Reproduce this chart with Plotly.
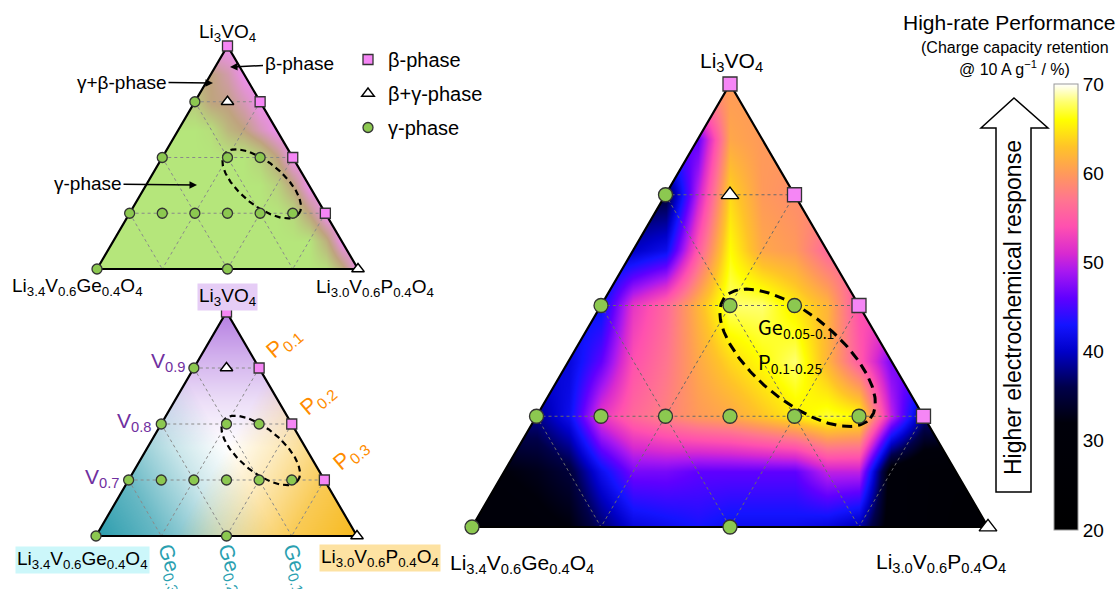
import numpy as np
import plotly.graph_objects as go

FIG_W, FIG_H = 1120, 589
SQ3 = np.sqrt(3) / 2
PAD = 0.07
FONT = "Liberation Sans, Arial, sans-serif"

# ---- sample compositions Li3V(1-x-y)Ge(x)P(y)O4 given as (Ge, P) contents ----
BETA_GE = [0.0, 0.0, 0.0, 0.0]
BETA_P = [0.0, 0.1, 0.2, 0.3]
MIX_GE = [0.05, 0.0]
MIX_P = [0.05, 0.4]
GAMMA_GE = [0.1, 0.2, 0.1, 0.05, 0.3, 0.25, 0.2, 0.15, 0.1, 0.05, 0.4, 0.2]
GAMMA_P = [0.0, 0.0, 0.1, 0.15, 0.0, 0.05, 0.1, 0.15, 0.2, 0.25, 0.0, 0.2]

# highlighted composition window (Ge 0.05-0.1, P 0.1-0.25)
WIN_GE = [0.05, 0.1]
WIN_P = [0.1, 0.25]

# ---- lattice maps: row k has Li3VO4 fraction k/8, nodes run from the Ge edge to the P edge ----
# charge capacity retention @ 10 A/g (%)
RETENTION_ROWS = [
    [30, 30, 31, 32, 37, 41, 42, 43, 42, 42, 42, 41, 39, 30, 28, 26, 25],
    [32, 33, 35, 42, 47, 47, 46, 46, 46, 46, 50, 50, 30, 28, 27],
    [38, 42, 52, 56, 58, 60, 61, 63, 65, 67, 66, 50, 38],
    [41, 46, 54, 57, 61, 64, 66, 68, 62, 55, 47],
    [42, 52, 56, 62, 68, 68, 65, 62, 54],
    [40, 42, 55, 66, 61, 60, 56],
    [35, 50, 64, 60, 59],
    [46, 61, 60],
    [60],
]
# phase character: 0 = gamma, 0.5 = gamma+beta, 1 = beta
PHASE_ROWS = [
    [0] * 14 + [0.05, 0.4, 1],
    [0] * 13 + [0.4, 1],
    [0] * 10 + [0.1, 0.5, 1],
    [0] * 8 + [0.15, 0.5, 1],
    [0] * 6 + [0.15, 0.5, 1],
    [0, 0, 0.05, 0.35, 0.5, 0.75, 1],
    [0.2, 0.5, 0.55, 0.75, 1],
    [0.5, 0.7, 1],
    [1],
]

RET_MIN, RET_MAX = 20, 70
RET_TICKS = [20, 30, 40, 50, 60, 70]
RET_COLORS = [(20, '#000000'), (32, '#00000a'), (36, '#00004a'), (40, '#0000c8'),
              (43, '#1414ff'), (46, '#6000ff'), (49, '#a818f0'), (51, '#d82ad0'),
              (54, '#ff50b0'), (57, '#ff7590'), (60, '#ff9a5a'), (63, '#ffc428'),
              (66, '#ffff00'), (68, '#ffff70'), (70, '#ffffff')]
PHASE_COLORS = [(0, '#b5e67b'), (0.5, '#bfa47f'), (1, '#ef8ef1')]

GREEN = '#8cc850'
PINK = '#f586f5'
EDGE = '#333333'


def to_xy(ge, p):
    b = np.asarray(ge, float) / 0.4
    c = np.asarray(p, float) / 0.4
    a = 1 - b - c
    return c + a / 2, a * SQ3


def lattice_grid(rows):
    grid = []
    for k, row in enumerate(rows):
        grid.append([row[0]] * k + list(row) + [row[-1]] * k)
    return np.array(grid, float)


N = len(RETENTION_ROWS[0]) - 1
GX = np.arange(N + 1) / N
GY = np.arange(len(RETENTION_ROWS)) / (len(RETENTION_ROWS) - 1) * SQ3
# composition fractions at the lattice nodes (Li3VO4 / Ge end / P end)
FRAC_A = np.repeat(GY[:, None] / SQ3, N + 1, axis=1)
FRAC_C = GX[None, :] - FRAC_A / 2
FRAC_B = 1 - FRAC_A - FRAC_C


def axis_domain(lx, rx, ay, by):
    sx = rx - lx
    sy = (by - ay) / SQ3
    return ([(lx - PAD * sx) / FIG_W, (rx + PAD * sx) / FIG_W],
            [1 - (by + PAD * sy) / FIG_H, 1 - (ay - PAD * sy) / FIG_H])


def paper(x, y):
    return x / FIG_W, 1 - y / FIG_H


def frame_traces(ax, marker_scale, ell_width, ell_dash, grid_color, show_legend):
    xa, ya = 'x' + ax, 'y' + ax
    tr = []
    # white mask outside the triangle (three counter-clockwise pieces)
    k = 0.5 / SQ3
    lo, hi = -PAD, SQ3 + PAD
    top_off = (hi - SQ3) * k
    mx = [-PAD, lo * k, 0.5 + top_off, -PAD, -PAD, None,
          1 + PAD, 1 + PAD, 0.5 - top_off, 1 - lo * k, 1 + PAD, None,
          -PAD, 1 + PAD, 1 + PAD, -PAD, -PAD]
    my = [lo, lo, hi, hi, lo, None,
          lo, hi, hi, lo, lo, None,
          lo, lo, 0, 0, lo]
    tr.append(go.Scatter(x=mx, y=my, mode='none', fill='toself', fillcolor='white',
                         xaxis=xa, yaxis=ya, showlegend=False, hoverinfo='skip'))
    # dotted composition grid
    gx, gy = [], []
    for t in (0.25, 0.5, 0.75):
        for (a0, b0, c0), (a1, b1, c1) in (
                ((t, 1 - t, 0), (t, 0, 1 - t)),
                ((1 - t, t, 0), (0, t, 1 - t)),
                ((1 - t, 0, t), (0, 1 - t, t))):
            gx += [c0 + a0 / 2, c1 + a1 / 2, None]
            gy += [a0 * SQ3, a1 * SQ3, None]
    tr.append(go.Scatter(x=gx, y=gy, mode='lines', line=dict(color=grid_color, width=1, dash='dot'),
                         xaxis=xa, yaxis=ya, showlegend=False, hoverinfo='skip'))
    # triangle outline
    tr.append(go.Scatter(x=[0, 0.5, 1, 0], y=[0, SQ3, 0, 0], mode='lines',
                         line=dict(color='black', width=2.2), xaxis=xa, yaxis=ya,
                         showlegend=False, hoverinfo='skip'))
    # dashed ellipse around the high-rate window
    cx, cy = to_xy(np.mean(WIN_GE), np.mean(WIN_P))
    t = np.linspace(0, 2 * np.pi, 240)
    A, B, th = 0.184, 0.083, np.deg2rad(-40)
    ex = cx + 0.006 + A * np.cos(t) * np.cos(th) - B * np.sin(t) * np.sin(th)
    ey = cy + 0.006 + A * np.cos(t) * np.sin(th) + B * np.sin(t) * np.cos(th)
    tr.append(go.Scatter(x=ex, y=ey, mode='lines', line=dict(color='black', width=ell_width, dash=ell_dash),
                         xaxis=xa, yaxis=ya, showlegend=False, hoverinfo='skip'))
    # samples
    s = marker_scale
    bx, by = to_xy(BETA_GE, BETA_P)
    tx, ty = to_xy(MIX_GE, MIX_P)
    cxg, cyg = to_xy(GAMMA_GE, GAMMA_P)
    tr.append(go.Scatter(x=bx, y=by, mode='markers', name='β-phase', legendrank=1, legendgroup='b',
                         marker=dict(symbol='square', size=10 * s, color=PINK, line=dict(color=EDGE, width=1.3)),
                         xaxis=xa, yaxis=ya, showlegend=show_legend, cliponaxis=False))
    tr.append(go.Scatter(x=tx, y=ty, mode='markers', name='β+γ-phase', legendrank=2, legendgroup='bg',
                         marker=dict(symbol='triangle-up', size=11 * s, color='white', line=dict(color='black', width=1.4)),
                         xaxis=xa, yaxis=ya, showlegend=show_legend, cliponaxis=False))
    tr.append(go.Scatter(x=cxg, y=cyg, mode='markers', name='γ-phase', legendrank=3, legendgroup='g',
                         marker=dict(symbol='circle', size=10 * s, color=GREEN, line=dict(color=EDGE, width=1.3)),
                         xaxis=xa, yaxis=ya, showlegend=show_legend, cliponaxis=False))
    return tr


def scale(stops, lo, hi):
    return [[(v - lo) / (hi - lo), c] for v, c in stops]


def alpha_scale(rgb, stops):
    return [[z, 'rgba(%d,%d,%d,%.2f)' % (*rgb, a)] for z, a in stops]


traces = []
# phase map (top-left)
traces.append(go.Heatmap(x=GX, y=GY, z=lattice_grid(PHASE_ROWS), zmin=0, zmax=1, zsmooth='best',
                         colorscale=scale(PHASE_COLORS, 0, 1), showscale=False, hoverinfo='skip',
                         xaxis='x', yaxis='y'))
# composition colouring (bottom-left)
for frac, rgb, st in (
        (FRAC_A, (180, 125, 225), [(0, 0), (0.4, 0), (0.6, 0.25), (0.8, 0.6), (1, 1)]),
        (FRAC_B, (40, 155, 172), [(0, 0), (0.3, 0), (0.5, 0.25), (0.75, 0.7), (1, 1)]),
        (FRAC_C, (247, 185, 28), [(0, 0), (0.3, 0), (0.5, 0.3), (0.75, 0.75), (1, 1)])):
    traces.append(go.Heatmap(x=GX, y=GY, z=frac, zmin=0, zmax=1, zsmooth='best',
                             colorscale=alpha_scale(rgb, st), showscale=False, hoverinfo='skip',
                             xaxis='x2', yaxis='y2'))
# retention map (right)
cb_top, cb_bot = 84, 530
traces.append(go.Heatmap(
    x=GX, y=GY, z=lattice_grid(RETENTION_ROWS), zmin=RET_MIN, zmax=RET_MAX, zsmooth='best',
    colorscale=scale(RET_COLORS, RET_MIN, RET_MAX), hoverinfo='skip', xaxis='x3', yaxis='y3',
    colorbar=dict(x=1054 / FIG_W, xanchor='left', y=1 - (cb_top + cb_bot) / 2 / FIG_H, yanchor='middle',
                  len=(cb_bot - cb_top) / FIG_H, lenmode='fraction', thickness=24, xpad=0, ypad=0,
                  outlinewidth=1, outlinecolor='#999999', tickvals=RET_TICKS, ticks='',
                  tickfont=dict(size=19, family=FONT, color='black'))))

traces += frame_traces('', 1.0, 2.2, '6px,4px', '#8a8a8a', True)
traces += frame_traces('2', 1.0, 2.2, '6px,4px', '#8a8a8a', False)
traces += frame_traces('3', 1.4, 3, '10px,6px', '#6a6a6a', False)

fig = go.Figure(traces)

d1 = axis_domain(97, 358, 46, 269)
d2 = axis_domain(96, 357, 312, 536)
d3 = axis_domain(472, 988, 84, 527)
for ax, (xd, yd) in (('', d1), ('2', d2), ('3', d3)):
    fig.layout['xaxis' + ax] = dict(domain=xd, range=[-PAD, 1 + PAD], visible=False, fixedrange=True)
    fig.layout['yaxis' + ax] = dict(domain=yd, range=[-PAD, SQ3 + PAD], visible=False, fixedrange=True)

ann = []


def label(text, x, y, size, color='black', angle=0, bg=None, family=FONT, xanchor='center'):
    px_, py_ = paper(x, y)
    ann.append(dict(text=text, x=px_, y=py_, xref='paper', yref='paper', showarrow=False,
                    xanchor=xanchor, yanchor='middle', textangle=angle,
                    font=dict(size=size, color=color, family=family),
                    bgcolor=bg, borderpad=1))


LVO = 'Li<sub>3</sub>VO<sub>4</sub>'
LGE = 'Li<sub>3.4</sub>V<sub>0.6</sub>Ge<sub>0.4</sub>O<sub>4</sub>'
LP = 'Li<sub>3.0</sub>V<sub>0.6</sub>P<sub>0.4</sub>O<sub>4</sub>'

# top-left phase diagram
label(LVO, 227, 33, 19)
label(LGE, 77, 287, 19)
label(LP, 375, 288, 19)
for text, hx, hy, tx, ty in (('β-phase', 230, 67, 299, 64),
                             ('γ+β-phase', 213, 83, 122, 82),
                             ('γ-phase', 197, 185, 88, 184)):
    hxp, hyp = paper(hx, hy)
    ann.append(dict(text=text, x=hxp, y=hyp, xref='paper', yref='paper', showarrow=True,
                    ax=tx - hx, ay=ty - hy, arrowhead=2, arrowsize=1, arrowwidth=1.5,
                    arrowcolor='black', font=dict(size=19, family=FONT, color='black')))

# bottom-left composition map
label(LVO, 227, 297, 19, bg='#e6cdf6')
label(LGE, 82, 560, 19, bg='#ccf7fa')
label(LP, 380, 558, 19, bg='#fde2a2')
for text, x, y in (('V<sub>0.9</sub>', 168, 362), ('V<sub>0.8</sub>', 134, 422), ('V<sub>0.7</sub>', 102, 478)):
    label(text, x, y, 21, color='#7030a0')
for text, x, y in (('P<sub>0.1</sub>', 284, 343), ('P<sub>0.2</sub>', 318, 400), ('P<sub>0.3</sub>', 351, 455)):
    label(text, x, y, 22, color='#ff8c00', angle=-40)
for text, x, y in (('Ge<sub>0.3</sub>', 171, 568), ('Ge<sub>0.2</sub>', 231, 568), ('Ge<sub>0.1</sub>', 296, 568)):
    label(text, x, y, 21, color='#2aa0b0', angle=72)

# retention map
label(LVO, 731, 62, 21)
label(LGE, 522, 564, 21)
label(LP, 941, 563, 21)
label('Ge<sub>0.05-0.1</sub>', 756, 327, 20, family='Noto Sans CJK JP, sans-serif', xanchor='left')
label('P<sub>0.1-0.25</sub>', 756, 362, 20, family='Noto Sans CJK JP, sans-serif', xanchor='left')

# colour bar heading and arrow caption
label('High-rate Performance', 1117, 22, 21, xanchor='right')
label('(Charge capacity retention', 1111, 48, 16, xanchor='right')
label('@ 10 A g<sup>−1</sup> / %)', 1014, 68, 16)
label('Higher electrochemical response', 1013, 308, 23, angle=-90)

# outlined up-arrow
pts = [(1014, 98), (1048, 128), (1031, 128), (1031, 492), (996, 492), (996, 128), (981, 128)]
path = 'M ' + ' L '.join('%.5f %.5f' % paper(x, y) for x, y in pts) + ' Z'

fig.update_layout(
    width=FIG_W, height=FIG_H, margin=dict(l=0, r=0, t=0, b=0),
    paper_bgcolor='white', plot_bgcolor='rgba(0,0,0,0)',
    font=dict(family=FONT, color='black'),
    annotations=ann,
    shapes=[dict(type='path', path=path, xref='paper', yref='paper',
                 line=dict(color='black', width=1.5), fillcolor='white', layer='above')],
    legend=dict(x=348 / FIG_W, y=1 - 40 / FIG_H, xanchor='left', yanchor='top',
                font=dict(size=20, family=FONT, color='black'), bgcolor='rgba(0,0,0,0)',
                itemsizing='trace', tracegroupgap=5),
)

fig.write_html('out.html')
